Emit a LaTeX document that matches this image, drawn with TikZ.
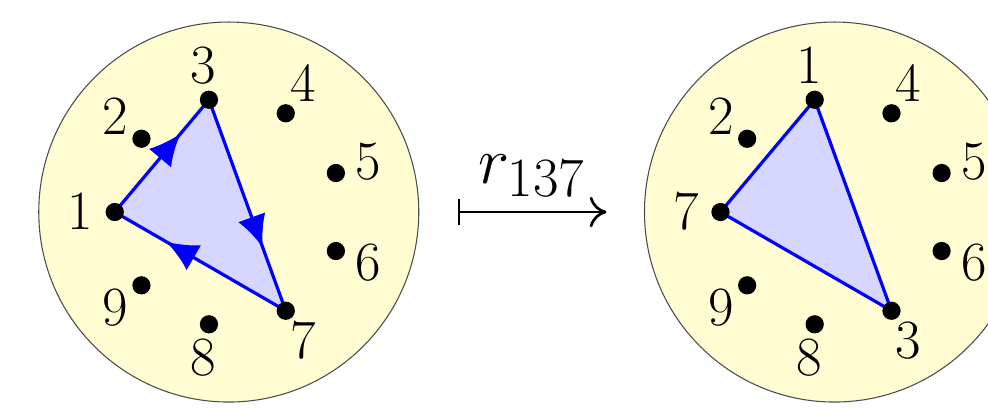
\documentclass[tikz,border=0pt]{standalone}
\usepackage{tikz}
\usetikzlibrary{arrows.meta, positioning, calc, decorations.markings}

\begin{document}
\begin{tikzpicture}[
    clock/.style={circle, draw=black!70, line width=0.4pt, fill=yellow!18,
        minimum size=5cm, inner sep=0pt},
    pt/.style={circle, fill=black, inner sep=0pt, minimum size=2.4mm},
    num/.style={font=\huge, inner sep=0pt},
    area/.style={fill=blue!16},
    side/.style={draw=blue, line width=1.2pt, line cap=round},
    flow/.style={postaction={decorate}, decoration={markings,
        mark=at position 0.7 with {\arrow{Latex[length=4.2mm,width=3.8mm]}}}},
    maps/.style={{Bar[width=3.4mm]}-{To[length=2.2mm,width=4mm]}, line width=1pt},
]
\useasboundingbox (-3.01,-2.59) rectangle (9.99,2.79);

% Left clock
\node[clock] (CL) at (0,0) {};
\foreach \k in {1,...,9} {
    \coordinate (L\k) at ({180-40*(\k-1)}:1.5);
    \node[num] (LN\k) at ({180-40*(\k-1)}:1.95) {$\k$};
}
\fill[area] (L1) -- (L3) -- (L7) -- cycle;
\draw[side, flow] (L1) -- (L3);
\draw[side, flow] (L3) -- (L7);
\draw[side, flow] (L7) -- (L1);
\foreach \k in {1,...,9} \node[pt] at (L\k) {};

% Map arrow
\coordinate (from) at (3.01,0);
\coordinate (to) at (4.97,0);
\draw[maps] (from) -- node[above=2pt, font=\Huge] (rot) {$r_{137}$} (to);

% Right clock
\begin{scope}[shift={(7.97,0)}]
\node[clock] (CR) at (0,0) {};
\foreach \k/\lab in {1/7,2/2,3/1,4/4,5/5,6/6,7/3,8/8,9/9} {
    \coordinate (R\k) at ({180-40*(\k-1)}:1.5);
    \node[num] (RN\k) at ({180-40*(\k-1)}:1.95) {$\lab$};
}
\filldraw[area, side, line join=round] (R1) -- (R3) -- (R7) -- cycle;
\foreach \k in {1,...,9} \node[pt] at (R\k) {};
\end{scope}
\end{tikzpicture}
\end{document}
